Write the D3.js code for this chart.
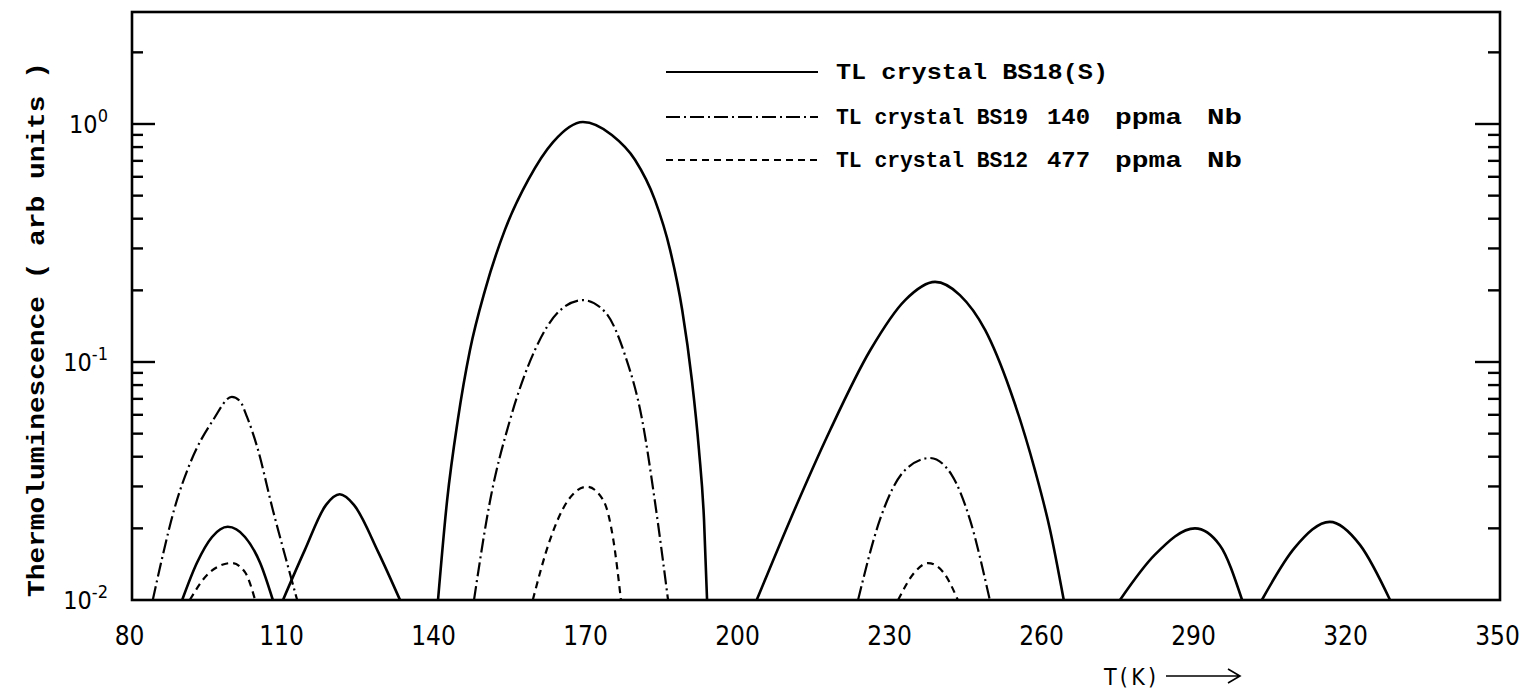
<!DOCTYPE html>
<html>
<head>
<meta charset="utf-8">
<script src="https://cdn.jsdelivr.net/npm/d3@7"></script>
<style>
  body { margin: 0; background: #fff; }
  svg { display: block; }
</style>
</head>
<body>
<div id="tlChart"></div>
<script>
// temperature ticks (K)
var xTickVals = [80, 110, 140, 170, 200, 230, 260, 290, 320, 350];
// decade labels on the log axis
var yDecades = [1, 0.1, 0.01];
var yDecadeExp = ["0", "-1", "-2"];

// legend text
var seriesNames = ["TL crystal BS18(S)", "TL crystal BS19", "TL crystal BS12"];
var seriesConc = ["", "140", "477"];

// glow peaks, [T (K), TL (arb units)]
var bs18Peaks = [
  [[89.9, 0.01], [92.8, 0.0143], [95.8, 0.0184], [98.9, 0.0203], [102.3, 0.0184], [105.3, 0.0143], [107.8, 0.01]],
  [[109.8, 0.01], [114.1, 0.0162], [118.3, 0.0251], [121, 0.0278], [123.8, 0.0251], [128.6, 0.0159], [132.9, 0.01]],
  [[140.4, 0.01], [142.2, 0.0263], [144.3, 0.057], [146.7, 0.112], [149.7, 0.201], [153.6, 0.359],
   [158.2, 0.582], [163.1, 0.839], [169, 1.019], [174.7, 0.899], [179.3, 0.706], [183.2, 0.48],
   [186.2, 0.296], [188.6, 0.165], [190.5, 0.084], [191.9, 0.0427], [192.9, 0.0217], [193.5, 0.01]],
  [[203.3, 0.01], [209.9, 0.0217], [217.8, 0.0518], [225.7, 0.112], [232.6, 0.182], [238.5, 0.217],
   [243.4, 0.191], [248.4, 0.136], [253.3, 0.0763], [258.2, 0.0352], [261.2, 0.0197], [263.9, 0.01]],
  [[275, 0.01], [281.9, 0.0155], [289.8, 0.02], [294.7, 0.017], [299.1, 0.01]],
  [[303, 0.01], [309.5, 0.0166], [316.4, 0.0213], [322.4, 0.017], [328.3, 0.01]]
];
var bs19Peaks = [
  [[84.1, 0.01], [86.1, 0.0155], [88.3, 0.0239], [91.5, 0.0377], [96.0, 0.057], [99.7, 0.0713],
   [101.3, 0.0685], [102.7, 0.0588], [104.7, 0.044], [107.8, 0.0239], [110.8, 0.0138], [112.6, 0.01]],
  [[147.5, 0.01], [150.7, 0.0263], [154.6, 0.057], [159.5, 0.112], [164.5, 0.165], [169, 0.182],
   [173.4, 0.162], [177.3, 0.107], [180.7, 0.057], [183.2, 0.026], [185.8, 0.01]],
  [[223.3, 0.01], [227.6, 0.0217], [232.6, 0.0352], [237.5, 0.0395], [241.8, 0.0335], [245.4, 0.0217], [249.3, 0.01]]
];
var bs12Peaks = [
  [[91.4, 0.01], [95.4, 0.0131], [99.7, 0.0143], [102.3, 0.0131], [104.3, 0.01]],
  [[159.1, 0.01], [162.5, 0.0179], [166.1, 0.0263], [169.8, 0.0299], [173, 0.0263], [175, 0.0179], [176.5, 0.01]],
  [[231.2, 0.01], [234.5, 0.0131], [237.1, 0.0143], [240.1, 0.0131], [243, 0.01]]
];

var width = 1532;
var height = 695;
// plot frame (don't use "top" as a global, it is window.top)
var frameL = 132, frameR = 1500, frameT = 12, frameB = 600;

var svg = d3.select("#tlChart")
            .append("svg")
            .attr("width", width)
            .attr("height", height);

var x = d3.scaleLinear().domain([80, 350]).range([frameL, frameR]);
var y = d3.scaleLog().domain([0.01, 2.955]).range([frameB, frameT]);

var monoFont = "'Liberation Mono', 'DejaVu Sans Mono', monospace";
var narrowFont = "'DejaVu Sans Condensed', 'Liberation Sans Narrow', 'Liberation Sans', sans-serif";

// dash styles for the three crystals
var dashes = [null, "14,4,2,4", "7,5"];
var allPeaks = [bs18Peaks, bs19Peaks, bs12Peaks];

var line = d3.line()
             .x(function(d) { return x(d[0]); })
             .y(function(d) { return y(d[1]); })
             .curve(d3.curveMonotoneX);

allPeaks.forEach(function(peaks, i) {
  svg.append("g").selectAll("path")
     .data(peaks)
     .enter()
     .append("path")
     .attr("d", line)
     .attr("fill", "none")
     .attr("stroke", "#000")
     .attr("stroke-width", i == 0 ? 2.6 : 2.2)
     .attr("stroke-dasharray", dashes[i]);
});

// frame
svg.append("rect")
   .attr("x", frameL).attr("y", frameT)
   .attr("width", frameR - frameL).attr("height", frameB - frameT)
   .attr("fill", "none")
   .attr("stroke", "#000")
   .attr("stroke-width", 2.6);

// log ticks, pointing inward on both sides
var logTicks = y.ticks().filter(function(t) { return t > 0.01 && t < y.domain()[1]; });
var isMajor = function(t) { return yDecades.indexOf(+t.toPrecision(3)) >= 0; };

var gl = svg.append("g").attr("transform", "translate(" + frameL + ",0)");
gl.selectAll("line")
  .data(logTicks)
  .enter().append("line")
  .attr("x1", 0)
  .attr("x2", function(t) { return isMajor(t) ? 23 : 11; })
  .attr("y1", function(t) { return y(t); })
  .attr("y2", function(t) { return y(t); })
  .attr("stroke", "#000").attr("stroke-width", 2.4);

var gr = svg.append("g").attr("transform", "translate(" + frameR + ",0)");
gr.selectAll("line")
  .data(logTicks)
  .enter().append("line")
  .attr("x1", 0)
  .attr("x2", function(t) { return isMajor(t) ? -25 : -12; })
  .attr("y1", function(t) { return y(t); })
  .attr("y2", function(t) { return y(t); })
  .attr("stroke", "#000").attr("stroke-width", 2.4);

// decade labels
yDecades.forEach(function(v, i) {
  var t = svg.append("text")
             .attr("x", 108)
             .attr("y", y(v) + 9)
             .attr("text-anchor", "end")
             .attr("font-family", narrowFont)
             .attr("font-size", 25)
             .attr("fill", "#000");
  t.append("tspan").text("10");
  t.append("tspan").attr("dy", -11).attr("font-size", 18).text(yDecadeExp[i]);
});

// x tick labels
var xAxis = d3.axisBottom(x).tickValues(xTickVals).tickSize(0).tickPadding(27);
var gx = svg.append("g")
            .attr("transform", "translate(-3," + frameB + ")")
            .call(xAxis);
gx.select(".domain").remove();
gx.selectAll("text")
  .attr("font-family", narrowFont)
  .attr("font-size", 26)
  .attr("fill", "#000");

// axis titles
svg.append("text")
   .attr("x", 1104).attr("y", 685)
   .attr("font-family", narrowFont)
   .attr("font-size", 23)
   .attr("textLength", 52)
   .text("T(K)");
svg.append("path")
   .attr("d", "M1166,676 L1240,676 M1228,669 L1240,676 L1228,683")
   .attr("fill", "none").attr("stroke", "#000").attr("stroke-width", 1.6);

svg.append("text")
   .attr("transform", "translate(44,597) rotate(-90)")
   .attr("font-family", monoFont)
   .attr("font-weight", "bold")
   .attr("font-size", 24)
   .attr("textLength", 535)
   .attr("lengthAdjust", "spacingAndGlyphs")
   .text("Thermoluminescence ( arb units )");

// legend
var legY = [72, 117, 160];
var legText = function(xPos, yPos, s, len) {
  svg.append("text")
     .attr("x", xPos).attr("y", yPos)
     .attr("font-family", monoFont)
     .attr("font-weight", "bold")
     .attr("font-size", 22)
     .attr("textLength", len)
     .attr("lengthAdjust", "spacingAndGlyphs")
     .text(s);
};
seriesNames.forEach(function(name, i) {
  svg.append("line")
     .attr("x1", 666).attr("x2", 818)
     .attr("y1", legY[i]).attr("y2", legY[i])
     .attr("stroke", "#000").attr("stroke-width", 2.2)
     .attr("stroke-dasharray", dashes[i]);
  legText(836, legY[i] + 7, name, i == 0 ? 272 : 192);
  if (seriesConc[i]) {
    legText(1047, legY[i] + 7, seriesConc[i], 43);
    legText(1115, legY[i] + 7, "ppma", 67);
    legText(1207, legY[i] + 7, "Nb", 35);
  }
});
</script>
</body>
</html>
